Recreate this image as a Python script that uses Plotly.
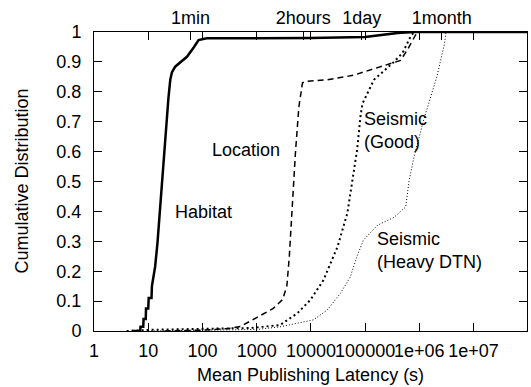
import plotly.graph_objects as go

# ---- data ----
habitat_x = [5, 7.1, 7.2, 8.1, 8.2, 9.0, 9.1, 10.0, 10.2, 11.5, 11.7, 12.8, 13.4, 14.8, 16.1, 17.8, 19.1, 21.4, 23.6, 25.5, 27.3, 31.4, 40, 51.7, 70, 84.7, 120, 1000, 1e4, 1e5, 2e5, 4e5, 8e5, 1e8]
habitat_y = [0, 0, 0.014, 0.014, 0.04, 0.04, 0.075, 0.075, 0.11, 0.11, 0.15, 0.19, 0.215, 0.294, 0.38, 0.48, 0.58, 0.695, 0.78, 0.84, 0.865, 0.884, 0.9, 0.917, 0.95, 0.973, 0.979, 0.979, 0.98, 0.983, 0.99, 0.997, 1.0, 1.0]

location_x = [20, 100, 300, 500, 1000, 2000, 3000, 3600, 4000, 4500, 5200, 6000, 7000, 8000, 2e4, 6e4, 1.7e5, 4.5e5, 6e5, 8.5e5, 1e6, 1e8]
location_y = [0.0, 0.003, 0.008, 0.015, 0.045, 0.075, 0.105, 0.15, 0.25, 0.42, 0.6, 0.75, 0.83, 0.835, 0.84, 0.855, 0.88, 0.905, 0.94, 0.99, 1.0, 1.0]

good_x = [4, 11, 760, 2700, 5600, 9800, 1.7e4, 3.1e4, 4.7e4, 5.8e4, 7.1e4, 8.2e4, 8.9e4, 1.45e5, 3.4e5, 4.9e5, 6.9e5, 8e5, 1e8]
good_y = [0.0, 0.004, 0.01, 0.02, 0.059, 0.104, 0.17, 0.282, 0.394, 0.505, 0.605, 0.717, 0.76, 0.84, 0.9, 0.93, 0.985, 1.0, 1.0]

heavy_x = [10, 300, 1000, 2700, 1.1e4, 2e4, 3.5e4, 5.3e4, 7.1e4, 9.3e4, 1.7e5, 3.4e5, 5.6e5, 6.5e5, 8e5, 1.2e6, 2.1e6, 2.9e6, 3.1e6, 1e8]
heavy_y = [0.0, 0.002, 0.005, 0.014, 0.037, 0.07, 0.126, 0.18, 0.25, 0.304, 0.354, 0.38, 0.415, 0.505, 0.583, 0.706, 0.85, 0.96, 1.0, 1.0]

x_tickvals = [1, 10, 100, 1000, 1e4, 1e5, 1e6, 1e7]
x_ticktext = ["1", "10", "100", "1000", "10000", "100000", "1e+06", "1e+07"]
top_tickvals = [60, 7200, 86400, 2592000]
top_ticktext = ["1min", "2hours", "1day", "1month"]
y_tickvals = [0, 0.1, 0.2, 0.3, 0.4, 0.5, 0.6, 0.7, 0.8, 0.9, 1.0]
y_ticktext = ["0", "0.1", "0.2", "0.3", "0.4", "0.5", "0.6", "0.7", "0.8", "0.9", "1"]

FONT = "Liberation Sans, Arial, Helvetica, sans-serif"
FS = 18

fig = go.Figure()
fig.add_trace(go.Scatter(x=heavy_x, y=heavy_y, mode="lines",
                         line=dict(color="black", width=1, dash="1px,2px"), name="Seismic (Heavy DTN)"))
fig.add_trace(go.Scatter(x=good_x, y=good_y, mode="lines",
                         line=dict(color="black", width=2, dash="2px,3px"), name="Seismic (Good)"))
fig.add_trace(go.Scatter(x=location_x, y=location_y, mode="lines",
                         line=dict(color="black", width=1.5, dash="6px,4px"), name="Location"))
fig.add_trace(go.Scatter(x=habitat_x, y=habitat_y, mode="lines",
                         line=dict(color="black", width=2.5), name="Habitat"))
# invisible trace to carry the top axis
fig.add_trace(go.Scatter(x=[1e3], y=[-5], xaxis="x2", mode="markers",
                         marker=dict(opacity=0), hoverinfo="skip", showlegend=False))

XR = [0, 7.985]
fig.update_layout(
    width=531, height=387,
    margin=dict(l=94, r=4, t=32, b=56),
    paper_bgcolor="white", plot_bgcolor="white",
    showlegend=False,
    font=dict(family=FONT, size=FS, color="black"),
    xaxis=dict(type="log", range=XR, tickvals=x_tickvals, ticktext=x_ticktext,
               ticks="inside", ticklen=8, tickwidth=1, tickcolor="black", tickangle=0,
               showline=True, linecolor="black", linewidth=1, mirror="ticks",
               showgrid=False, zeroline=False, ticklabelstandoff=3,
               tickfont=dict(family=FONT, size=FS)),
    xaxis2=dict(type="log", range=XR, overlaying="x", side="top", anchor="y",
                tickvals=top_tickvals, ticktext=top_ticktext, tickangle=0,
                ticks="inside", ticklen=8, tickwidth=1, tickcolor="black",
                showgrid=False, zeroline=False, showline=False, ticklabelstandoff=3,
                tickfont=dict(family=FONT, size=FS)),
    yaxis=dict(range=[0, 1], tickvals=y_tickvals, ticktext=y_ticktext,
               ticks="inside", ticklen=8, tickwidth=1, tickcolor="black",
               showline=True, linecolor="black", linewidth=1, mirror="ticks",
               showgrid=False, zeroline=False, ticklabelstandoff=8,
               tickfont=dict(family=FONT, size=FS)),
)

def px2paper(px, py):
    return (px - 94) / 433.0, (331 - py) / 299.0

annots = [
    ("Location", 246, 150, "center"),
    ("Habitat", 203, 212, "center"),
    ("Seismic<br>(Good)", 362, 130, "left"),
    ("Seismic<br>(Heavy DTN)", 375, 250, "left"),
]
for text, px, py, al in annots:
    ax, ay = px2paper(px, py)
    fig.add_annotation(x=ax, y=ay, xref="paper", yref="paper", text=text, showarrow=False,
                       xanchor=al, yanchor="middle", align="left",
                       font=dict(family=FONT, size=FS, color="black"))

# axis titles
fig.add_annotation(x=0.5, y=(331 - 375) / 299.0, xref="paper", yref="paper",
                   text="Mean Publishing Latency (s)", showarrow=False,
                   xanchor="center", yanchor="middle", font=dict(family=FONT, size=FS))
fig.add_annotation(x=(21 - 94) / 433.0, y=0.5, xref="paper", yref="paper",
                   text="Cumulative Distribution", showarrow=False, textangle=-90,
                   xanchor="center", yanchor="middle", font=dict(family=FONT, size=FS))

fig.write_html("out.html")
